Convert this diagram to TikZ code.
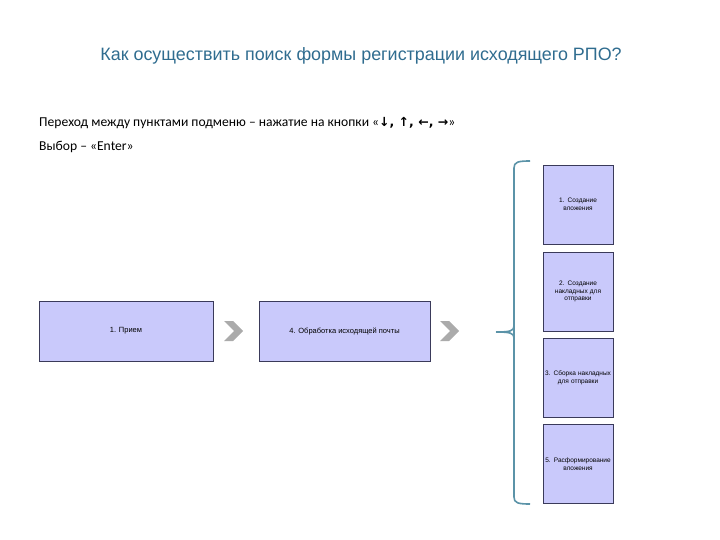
\documentclass[tikz,border=0pt]{standalone}
\usepackage{fontspec}
\setmainfont{Liberation Sans}
\newfontfamily\bodyfont{Carlito}
\newfontfamily\symfont{DejaVu Sans}
\definecolor{titleblue}{HTML}{2F6C8F}
\definecolor{boxfill}{HTML}{C9C9FB}
\definecolor{boxline}{HTML}{3A3A5A}
\definecolor{brack}{HTML}{5B93A8}
\definecolor{chev}{HTML}{ABABAB}
\tikzset{
  menubox/.style={draw=boxline, line width=0.6pt, fill=boxfill, inner sep=0pt, align=center, font=\fontsize{6.5}{7.5}\selectfont},
  chevron/.style={fill=chev, draw=none},
  bodytext/.style={anchor=west, font=\bodyfont\fontsize{13.6}{16}\selectfont, inner sep=0pt},
}
\begin{document}
\begin{tikzpicture}[x=1pt,y=-1pt]
\useasboundingbox (0,0) rectangle (720,540);
\node[text=titleblue, font=\fontsize{17.9}{20}\selectfont] (title) at (361,56) {Как осуществить поиск формы регистрации исходящего РПО?};
\node[bodytext] (l1) at (39,123) {Переход между пунктами подменю – нажатие на кнопки «{\symfont\bfseries\fontsize{12.5}{14}\selectfont ↓, ↑, ←, →}»};
\node[bodytext] (l2) at (39,147) {Выбор – «Enter»};
% main boxes
\node[menubox, minimum width=174pt, minimum height=60pt, font=\fontsize{7.5}{9}\selectfont] (b1) at (126,331) {1. Прием};
\node[menubox, minimum width=171pt, minimum height=60pt, font=\fontsize{7.5}{9}\selectfont] (b2) at (344.5,331) {4. Обработка исходящей почты};
% chevrons
\fill[chevron] (224,321) -- (233,321) -- (243,331) -- (233,341) -- (224,341) -- (234,331) -- cycle;
\fill[chevron] (440,321) -- (449,321) -- (459,331) -- (449,341) -- (440,341) -- (450,331) -- cycle;
% submenu boxes
\node[menubox, minimum width=70pt, minimum height=79pt, text width=66pt] (s1) at (578,204.5) {1. Создание\\вложения};
\node[menubox, minimum width=70pt, minimum height=79pt, text width=66pt] (s2) at (578,291.5) {2. Создание\\накладных для\\отправки};
\node[menubox, minimum width=70pt, minimum height=79pt, text width=68pt] (s3) at (578,378) {3. Сборка накладных\\для отправки};
\node[menubox, minimum width=70pt, minimum height=79pt, text width=68pt] (s4) at (578,464) {5. Расформирование\\вложения};
% bracket
\coordinate (bt) at (530,161);
\coordinate (bb) at (530,504);
\coordinate (bm) at (496,332);
\draw[brack, line width=1.6pt, line join=round] (bt) .. controls (518,161) and (514,162) .. (514,168) -- (514,326) .. controls (514,331) and (510,332) .. (bm);
\draw[brack, line width=1.6pt, line join=round] (514,326) -- (514,338) .. controls (514,333) and (510,332) .. (bm);
\draw[brack, line width=1.6pt] (514,338) -- (514,497) .. controls (514,503) and (518,504) .. (bb);
\end{tikzpicture}
\end{document}
